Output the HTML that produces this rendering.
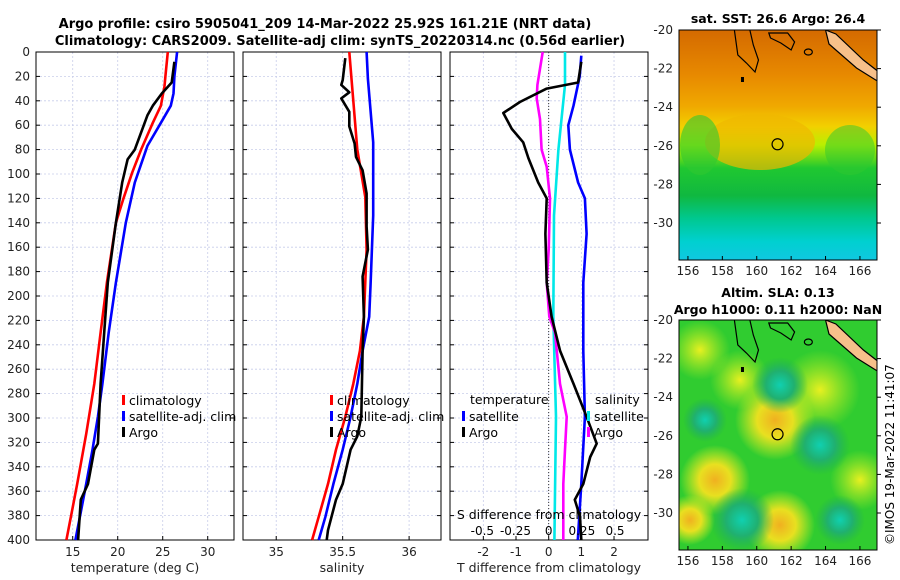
<!DOCTYPE html>
<html><head><meta charset="utf-8">
<style>
html,body{margin:0;padding:0;background:#fff;}
svg{display:block;font-family:"DejaVu Sans","Liberation Sans",sans-serif;}
</style></head>
<body>
<svg id="fig" width="900" height="580" viewBox="0 0 900 580" xmlns="http://www.w3.org/2000/svg">
<defs>
<linearGradient id="sstGrad" x1="0" y1="0" x2="0" y2="1">
<stop offset="0" stop-color="#d46a00"/><stop offset="0.2" stop-color="#e88a00"/>
<stop offset="0.33" stop-color="#f0a800"/><stop offset="0.42" stop-color="#f2d000"/>
<stop offset="0.5" stop-color="#b8f000"/><stop offset="0.6" stop-color="#20c830"/>
<stop offset="0.72" stop-color="#10b840"/><stop offset="0.82" stop-color="#00c890"/>
<stop offset="0.92" stop-color="#00d0d0"/><stop offset="1" stop-color="#10c8e0"/>
</linearGradient>
<radialGradient id="yel"><stop offset="0" stop-color="#f0b020"/><stop offset="0.45" stop-color="#e8e020"/><stop offset="1" stop-color="#e0f020" stop-opacity="0"/></radialGradient>
<radialGradient id="lyel"><stop offset="0" stop-color="#e8f020"/><stop offset="1" stop-color="#c0f020" stop-opacity="0"/></radialGradient>
<radialGradient id="blu"><stop offset="0" stop-color="#10d0b0"/><stop offset="0.5" stop-color="#20b070"/><stop offset="1" stop-color="#20b050" stop-opacity="0"/></radialGradient>
<clipPath id="clipTop"><rect x="679" y="30" width="198" height="230"/></clipPath>
<clipPath id="clipBot"><rect x="679" y="320" width="198" height="230"/></clipPath>
</defs>
<text x="325" y="28" text-anchor="middle" font-size="13" font-weight="bold">Argo profile: csiro 5905041_209 14-Mar-2022 25.92S 161.21E (NRT data)</text>
<text x="340" y="45" text-anchor="middle" font-size="13" font-weight="bold">Climatology: CARS2009. Satellite-adj clim: synTS_20220314.nc (0.56d earlier)</text>
<g id="panels"></g>
<g id="maps"></g>
<text transform="translate(894,545) rotate(-90)" font-size="12">©IMOS 19-Mar-2022 11:41:07</text>
</svg>
<script>
// ---------- data ----------
const depthTicks = [0,20,40,60,80,100,120,140,160,180,200,220,240,260,280,300,320,340,360,380,400];
const tempTicks = [15,20,25,30];
const salTicks = [35,35.5,36];
const tdiffTicks = [-2,-1,0,1,2];
const sdiffTicks = [-0.5,-0.25,0,0.25,0.5];
const sdiffLabels = ["-0.5","-0.25","0","0.25","0.5"];

const tClimDepth = [0,20,28,44,58,80,99,121,140,189,230,272,313,354,381,400];
const tClimVal   = [25.56,25.3,25.2,24.8,23.9,22.6,21.6,20.6,19.8,18.8,18.1,17.4,16.5,15.5,14.8,14.3];
const tSatDepth  = [0,20,34,44,58,77,107,140,189,230,272,299,326,354,381,400];
const tSatVal    = [26.6,26.3,26.2,25.9,24.8,23.3,21.9,20.9,19.8,19.0,18.3,17.8,17.2,16.5,15.8,15.3];
const tArgoDepth = [8,25,34,44,52,80,88,107,140,189,230,272,321,326,354,367,400];
const tArgoVal   = [26.3,26.0,24.9,23.9,23.3,21.9,21.1,20.5,19.8,18.9,18.5,18.1,17.8,17.4,16.7,15.9,15.6];

const sClimDepth = [0,80,119,162,217,245,272,299,326,354,381,400];
const sClimVal   = [35.55,35.61,35.67,35.68,35.66,35.63,35.58,35.52,35.45,35.39,35.32,35.27];
const sSatDepth  = [0,22,74,134,190,217,245,272,299,326,354,381,400];
const sSatVal    = [35.68,35.69,35.73,35.73,35.71,35.70,35.65,35.61,35.56,35.50,35.43,35.37,35.32];
const sArgoDepth = [5,23,27,33,38,49,61,75,86,97,116,143,162,184,217,245,299,315,326,354,367,392,400];
const sArgoVal   = [35.52,35.50,35.49,35.55,35.49,35.55,35.55,35.59,35.60,35.65,35.68,35.68,35.69,35.65,35.66,35.65,35.64,35.61,35.56,35.50,35.45,35.39,35.38];

const dTArgoDepth = [8,25,30,41,50,63,74,87,107,120,149,189,217,245,272,299,321,332,354,367,381,400];
const dTArgoVal   = [1.0,0.9,-0.06,-0.88,-1.39,-1.13,-0.78,-0.62,-0.32,-0.06,-0.1,-0.06,0.09,0.35,0.76,1.16,1.47,1.27,1.06,0.8,0.96,1.0];
const dTSatDepth  = [3,20,44,60,80,107,120,149,189,245,299,354,400];
const dTSatVal    = [1.0,0.95,0.76,0.6,0.65,0.9,1.11,1.16,1.06,1.06,1.11,1.0,0.89];
const dSSatDepth  = [0,27,80,134,217,299,400];
const dSSatVal    = [0.123,0.123,0.073,0.04,0.035,0.055,0.043];
const dSArgoDepth = [0,27,38,55,80,94,120,162,189,217,230,272,299,326,354,400];
const dSArgoVal   = [-0.045,-0.085,-0.09,-0.065,-0.053,-0.015,0.01,0.0,-0.015,0.005,0.048,0.085,0.136,0.123,0.11,0.11];

// ---------- helpers ----------
const NS="http://www.w3.org/2000/svg";
function mk(tag,attrs,parent){const e=document.createElementNS(NS,tag);for(const k in attrs)e.setAttribute(k,attrs[k]);parent.appendChild(e);return e;}
const Y0=52,Y1=540;
function yD(d){return Y0+(d/400)*(Y1-Y0);}
const panelsG=document.getElementById('panels');

function makePanel(name,x0,x1,vmin,vmax,ticks,tickLabels,xlabel){
  const g=mk('g',{},panelsG);
  
  
  const sx=v=>x0+(v-vmin)/(vmax-vmin)*(x1-x0);
  for(const d of depthTicks){const l=mk('line',{x1:x0,x2:x1,y1:yD(d),y2:yD(d),stroke:'#c8cdea','stroke-dasharray':'2,2','stroke-width':0.8},g);
    
    }
  ticks.forEach((t,i)=>{const l=mk('line',{x1:sx(t),x2:sx(t),y1:Y0,y2:Y1,stroke:'#c8cdea','stroke-dasharray':'2,2','stroke-width':0.8},g);
    
    
    const tx=mk('text',{x:sx(t),y:556,'text-anchor':'middle','font-size':12,fill:'#222'},g);tx.textContent=tickLabels?tickLabels[i]:t;
    
    
    mk('line',{x1:sx(t),x2:sx(t),y1:Y1,y2:Y1-4,stroke:'#000'},g);});
  const r=mk('rect',{x:x0,y:Y0,width:x1-x0,height:Y1-Y0,fill:'none',stroke:'#000','stroke-width':1},g);
  
  
  for(const d of depthTicks){mk('line',{x1:x0,x2:x0+4,y1:yD(d),y2:yD(d),stroke:'#000'},g);mk('line',{x1:x1,x2:x1-4,y1:yD(d),y2:yD(d),stroke:'#000'},g);}
  const xl=mk('text',{x:(x0+x1)/2,y:572,'text-anchor':'middle','font-size':12.5,fill:'#222'},g);xl.textContent=xlabel;
  
  
  return {g,sx};
}
function series(p,name,depths,vals,color){
  const pts=depths.map((d,i)=>p.sx(vals[i]).toFixed(1)+','+yD(d).toFixed(1)).join(' ');
  const pl=mk('polyline',{points:pts,fill:'none',stroke:color,'stroke-width':2.6,'stroke-linejoin':'round'},p.g);
  
  
}
function legend(g,x,y,color,label){
  const r=mk('rect',{x:x,y:y-10,width:3,height:10,fill:color},g);
  
  
  const t=mk('text',{x:x+7,y:y,'font-size':12.5,fill:'#000'},g);t.textContent=label;
  
  
}

// Panel 1 temperature
const p1=makePanel('temperature-panel',36,234,10.92,32.92,tempTicks,null,'temperature (deg C)');
depthTicks.forEach(d=>{const t=mk('text',{x:30,y:yD(d)+4,'text-anchor':'end','font-size':12,fill:'#222'},p1.g);t.textContent=d;
  
  });
series(p1,'temp-climatology-line',tClimDepth,tClimVal,'#ff0000');
series(p1,'temp-satellite-line',tSatDepth,tSatVal,'#0000ff');
series(p1,'temp-argo-line',tArgoDepth,tArgoVal,'#000');
legend(p1.g,122,405,'#ff0000','climatology');legend(p1.g,122,421,'#0000ff','satellite-adj. clim');legend(p1.g,122,437,'#000','Argo');

// Panel 2 salinity
const p2=makePanel('salinity-panel',243,441,34.75,36.24,salTicks,null,'salinity');
series(p2,'sal-climatology-line',sClimDepth,sClimVal,'#ff0000');
series(p2,'sal-satellite-line',sSatDepth,sSatVal,'#0000ff');
series(p2,'sal-argo-line',sArgoDepth,sArgoVal,'#000');
legend(p2.g,330,405,'#ff0000','climatology');legend(p2.g,330,421,'#0000ff','satellite-adj. clim');legend(p2.g,330,437,'#000','Argo');

// Panel 3 differences
const p3=makePanel('difference-panel',450,648,-3.02,3.04,tdiffTicks,null,'T difference from climatology');
mk('line',{x1:p3.sx(0),x2:p3.sx(0),y1:Y0,y2:Y1,stroke:'#333','stroke-dasharray':'1,2','stroke-width':1},p3.g);
const sx3=v=>p3.sx(0)+v*132.7;
const ps={g:p3.g,sx:sx3};
series(ps,'sdiff-satellite-line',dSSatDepth,dSSatVal,'#00e8e8');
series(ps,'sdiff-argo-line',dSArgoDepth,dSArgoVal,'#ff00ff');
series(p3,'tdiff-satellite-line',dTSatDepth,dTSatVal,'#0000ff');
series(p3,'tdiff-argo-line',dTArgoDepth,dTArgoVal,'#000');
{const t=mk('text',{x:470,y:404,'font-size':12.5},p3.g);t.textContent='temperature';
 
 
 const t2=mk('text',{x:595,y:404,'font-size':12.5},p3.g);t2.textContent='salinity';
 
 }
legend(p3.g,462,421,'#0000ff','satellite');legend(p3.g,462,437,'#000','Argo');
legend(p3.g,587,421,'#00e8e8','satellite');legend(p3.g,587,437,'#ff00ff','Argo');
{const t=mk('text',{x:549,y:519,'text-anchor':'middle','font-size':12.5},p3.g);t.textContent='S difference from climatology';
 
 }
sdiffTicks.forEach((v,i)=>{const t=mk('text',{x:sx3(v),y:535,'text-anchor':'middle','font-size':12},p3.g);t.textContent=sdiffLabels[i];
  
  });

// ---------- maps ----------
const mapsG=document.getElementById('maps');
const lonTicks=[156,158,160,162,164,166];
const latTicks=[-20,-22,-24,-26,-28,-30];
const argoLon=161.21, argoLat=-25.92;
function drawMap(name,top,title1,title2,clip,fillFn){
  const g=mk('g',{},mapsG);
  
  
  const mx=lon=>679+(lon-155.48)*17.2, my=lat=>top+(-20-lat)*19.3;
  const inner=mk('g',{'clip-path':'url(#'+clip+')'},g);
  fillFn(inner,679,top);
  mk('path',{d:`M${mx(158.7)},${top} L${mx(158.9)},${top+25} L${mx(159.4)},${top+33} L${mx(159.9)},${top+42} L${mx(160.1)},${top+30} L${mx(159.8)},${top+15} L${mx(159.6)},${top}`,fill:'none',stroke:'#000','stroke-width':1.2},inner);
  mk('path',{d:`M${mx(160.7)},${top+3} L${mx(161.8)},${top+3} L${mx(162.2)},${top+12} L${mx(162.0)},${top+20} L${mx(161.4)},${top+13} L${mx(160.8)},${top+8} Z`,fill:'none',stroke:'#000','stroke-width':1.2},inner);
  mk('ellipse',{cx:mx(163.0),cy:top+22,rx:4,ry:3,fill:'none',stroke:'#000','stroke-width':1.2},inner);
  mk('path',{d:`M${mx(164.0)},${top} L${mx(164.6)},${top+4} L${mx(166.2)},${top+30} L${mx(167.1)},${top+42} L${mx(167.1)},${top+52} L${mx(165.8)},${top+38} L${mx(164.2)},${top+14} Z`,fill:'#f7c08a',stroke:'#000','stroke-width':1.2},inner);
  mk('rect',{x:mx(159.2)-2,y:top+47,width:3,height:5,fill:'#000'},inner);
  const c=mk('circle',{cx:mx(argoLon),cy:my(argoLat),r:5.5,fill:'none',stroke:'#000','stroke-width':1.2},g);
  
  
  mk('rect',{x:679,y:top,width:198,height:230,fill:'none',stroke:'#000'},g);
  lonTicks.forEach(l=>{const t=mk('text',{x:mx(l),y:top+245,'text-anchor':'middle','font-size':12,fill:'#222'},g);t.textContent=l;
    
    
    mk('line',{x1:mx(l),x2:mx(l),y1:top+230,y2:top+226,stroke:'#000'},g);});
  latTicks.forEach(l=>{const t=mk('text',{x:673,y:my(l)+4,'text-anchor':'end','font-size':12,fill:'#222'},g);t.textContent=l;
    
    
    mk('line',{x1:877,x2:881,y1:my(l),y2:my(l),stroke:'#000'},g);});
  if(title2){const t=mk('text',{x:778,y:top-23,'text-anchor':'middle','font-size':12.5,'font-weight':'bold'},g);t.textContent=title1;
    
    
    const t2=mk('text',{x:778,y:top-6,'text-anchor':'middle','font-size':12.5,'font-weight':'bold'},g);t2.textContent=title2;
    
    }
  else{const t=mk('text',{x:778,y:top-7,'text-anchor':'middle','font-size':12.5,'font-weight':'bold'},g);t.textContent=title1;
    
    }
}
drawMap('sst-map',30,'sat. SST: 26.6 Argo: 26.4',null,'clipTop',(g,x,y)=>{
  mk('rect',{x:x,y:y,width:198,height:230,fill:'url(#sstGrad)'},g);
  mk('ellipse',{cx:760,cy:y+112,rx:55,ry:28,fill:'#f0b800',opacity:0.7},g);
  mk('ellipse',{cx:700,cy:y+115,rx:20,ry:30,fill:'#30c830',opacity:0.6},g);
  mk('ellipse',{cx:850,cy:y+120,rx:25,ry:25,fill:'#30c830',opacity:0.5},g);
});
drawMap('sla-map',320,'Altim. SLA: 0.13','Argo h1000: 0.11 h2000: NaN','clipBot',(g,x,y)=>{
  mk('rect',{x:x,y:y,width:198,height:230,fill:'#30cc30'},g);
  const blobs=[[775,y+100,40,'url(#yel)'],[715,y+160,35,'url(#yel)'],[780,y+205,35,'url(#yel)'],[690,y+200,25,'url(#yel)'],
    [700,y+30,30,'url(#lyel)'],[820,y+70,40,'url(#lyel)'],[860,y+160,30,'url(#lyel)'],[740,y+60,30,'url(#lyel)'],
    [820,y+125,30,'url(#blu)'],[742,y+200,32,'url(#blu)'],[780,y+65,28,'url(#blu)'],[705,y+100,22,'url(#blu)'],[840,y+200,25,'url(#blu)']];
  blobs.forEach(b=>mk('circle',{cx:b[0],cy:b[1],r:b[2],fill:b[3]},g));
});
</script>
</body></html>
